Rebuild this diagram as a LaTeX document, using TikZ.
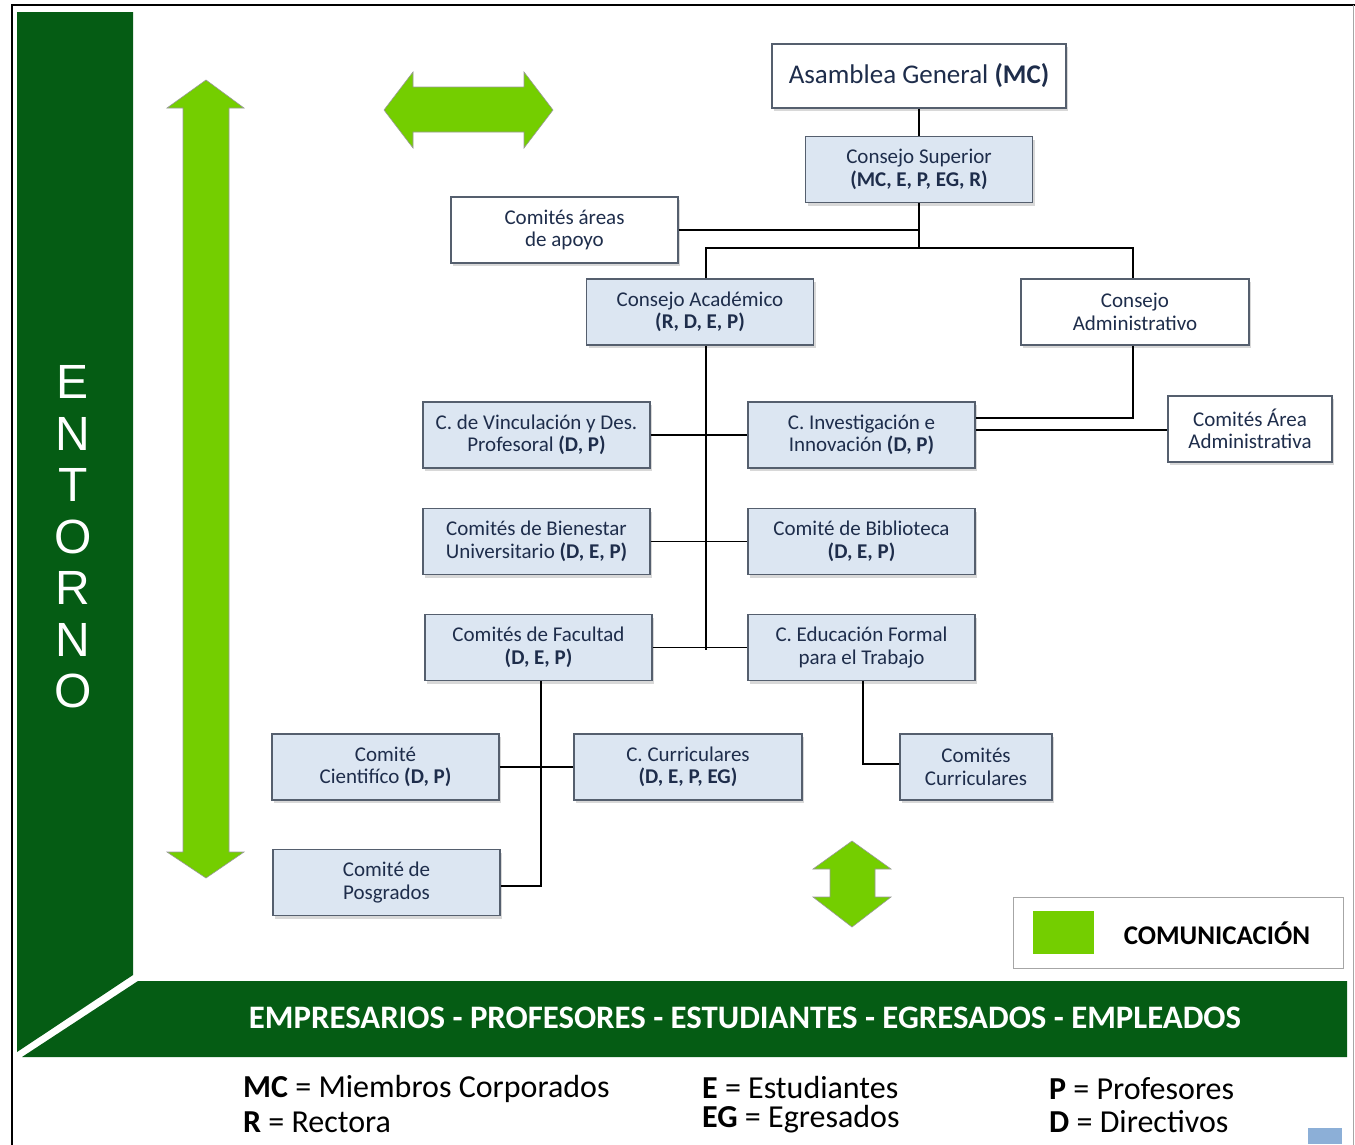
\documentclass[tikz,border=0pt]{standalone}
\usepackage{fontspec}
\setmainfont{Carlito}
\newfontfamily\arialf{Liberation Sans}
\usetikzlibrary{shadows}
\definecolor{dkgreen}{RGB}{5,92,20}
\definecolor{ltgreen}{RGB}{116,206,0}
\definecolor{boxblue}{RGB}{220,230,242}
\definecolor{boxline}{RGB}{85,95,110}
\definecolor{txt}{RGB}{30,45,75}
\definecolor{iconblue}{RGB}{140,175,215}
\begin{document}
\begin{tikzpicture}[x=1pt,y=-1pt,
  orgbox/.style={draw=boxline, line width=1.3pt, fill=boxblue, minimum width=227pt,
    minimum height=66pt, align=center, text=txt, inner sep=2pt,
    font=\fontsize{21}{22.5}\selectfont,
    drop shadow={shadow xshift=2pt, shadow yshift=-3pt, opacity=0.3}},
  whitebox/.style={orgbox, fill=white},
  link/.style={line width=1.8pt, draw=black},
  greenarrow/.style={fill=ltgreen, draw=gray!80, line width=0.6pt},
  legtext/.style={anchor=west, inner sep=0pt, text=black, font=\fontsize{32}{34}\selectfont}]
\useasboundingbox (0,0) rectangle (1355,1144);
\fill[white] (0,0) rectangle (1355,1144);
% frame
\draw[black, line width=2.2pt] (12,1150) -- (12,5) -- (1355,5);
\draw[gray!70, line width=1pt] (1353,5) -- (1353,1150);
% green L shape
\fill[dkgreen] (17,12) -- (133,12) -- (133,975) -- (17,1052) -- cycle;
\fill[dkgreen] (138,981) -- (1347,981) -- (1347,1057) -- (22,1057) -- cycle;
% ENTORNO
\node[font=\arialf\fontsize{48}{51.5}\selectfont, text=white, align=center] (entorno) at (73,537) {E\\N\\T\\O\\R\\N\\O};
% band text
\node[font=\bfseries\fontsize{32.8}{36}\selectfont, text=white] (band) at (745,1018) {EMPRESARIOS - PROFESORES - ESTUDIANTES - EGRESADOS - EMPLEADOS};
% arrows
\draw[greenarrow] (206,80) -- (244,108) -- (229,108) -- (229,852) -- (244,852) -- (206,878)
  -- (167,852) -- (183,852) -- (183,108) -- (167,108) -- cycle;
\draw[greenarrow] (384,110) -- (413,72) -- (413,87) -- (524,87) -- (524,72) -- (553,110)
  -- (524,148) -- (524,132) -- (413,132) -- (413,148) -- cycle;
\draw[greenarrow] (852,841) -- (891,869) -- (875,869) -- (875,897) -- (891,897) -- (852,927)
  -- (813,897) -- (830,897) -- (830,869) -- (813,869) -- cycle;
% boxes
\node[whitebox, minimum width=294pt, minimum height=64pt, font=\fontsize{27}{29}\selectfont] (asamblea) at (919,76) {Asamblea General \textbf{(MC)}};
\node[orgbox] (superior) at (919,169.5) {Consejo Superior\\\textbf{(MC, E, P, EG, R)}};
\node[whitebox] (apoyo) at (564.5,230) {Comités áreas\\de apoyo};
\node[orgbox] (academico) at (700,312) {Consejo Académico\\\textbf{(R, D, E, P)}};
\node[whitebox, minimum width=228pt] (admin) at (1135,312) {Consejo\\Administrativo};
\node[orgbox] (vinc) at (536.5,435) {C. de Vinculación y Des.\\Profesoral \textbf{(D, P)}};
\node[orgbox] (invest) at (861.5,435) {C. Investigación e\\Innovación \textbf{(D, P)}};
\node[whitebox, minimum width=164pt] (areaadm) at (1250,429) {Comités Área\\Administrativa};
\node[orgbox] (bienestar) at (536.5,541.5) {Comités de Bienestar\\Universitario \textbf{(D, E, P)}};
\node[orgbox] (biblio) at (861.5,541.5) {Comité de Biblioteca\\\textbf{(D, E, P)}};
\node[orgbox] (facultad) at (538.5,647.5) {Comités de Facultad\\\textbf{(D, E, P)}};
\node[orgbox] (educ) at (861.5,647.5) {C. Educación Formal\\para el Trabajo};
\node[orgbox] (cientifico) at (385.5,767) {Comité\\Cientifíco \textbf{(D, P)}};
\node[orgbox, minimum width=228pt] (ccurr) at (688,767) {C. Curriculares\\\textbf{(D, E, P, EG)}};
\node[orgbox, minimum width=152pt] (comcurr) at (976,767) {Comités\\Curriculares};
\node[orgbox] (posgrados) at (386.5,882.5) {Comité de\\Posgrados};
% junction coordinates
\coordinate (j1) at (919,248);
\coordinate (tA) at (706,650);
\coordinate (tB) at (1133,418);
\coordinate (k2) at (1000,430);
\coordinate (k3) at (541,886);
\coordinate (k4) at (863,764);
% connectors
\draw[link] (asamblea.south) -- (superior.north);
\draw[link] (superior.south) -- (j1);
\draw[link] (apoyo.east) -- (apoyo.east -| superior.south);
\draw[link] (academico.north -| tA) |- (j1) -| (admin.north -| tB);
\draw[link] (academico.south -| tA) -- (tA);
\draw[link] (admin.south -| tB) -- (tB) -- (invest.east |- tB);
\draw[link] (invest.east |- k2) -- (areaadm.west |- k2);
\draw[link] (vinc.east) -- (invest.west);
\draw[link] (bienestar.east) -- (biblio.west);
\draw[link] (facultad.east) -- (educ.west);
\draw[link] (facultad.south -| k3) -- (k3) -- (posgrados.east |- k3);
\draw[link] (cientifico.east) -- (ccurr.west);
\draw[link] (educ.south -| k4) -- (k4) -- (comcurr.west |- k4);
% legend box
\node[draw=gray!70, line width=1pt, fill=white, minimum width=330pt, minimum height=71pt] (legend) at (1178,932.5) {};
\node[fill=ltgreen, minimum width=61pt, minimum height=43pt, inner sep=0pt] (legsq) at (1063.5,932.5) {};
\node[font=\bfseries\fontsize{27}{29}\selectfont, text=black] (legtxt) at (1217,933) {COMUNICACIÓN};
% abbreviations
\node[legtext] (mc) at (243,1089) {\textbf{MC} = Miembros Corporados};
\node[legtext] (r) at (243,1122) {\textbf{R} = Rectora};
\node[legtext] (e) at (702,1087) {\textbf{E} = Estudiantes};
\node[legtext] (eg) at (702,1119) {\textbf{EG} = Egresados};
\node[legtext] (p) at (1049,1089) {\textbf{P} = Profesores};
\node[legtext] (d) at (1049,1122) {\textbf{D} = Directivos};
% small icon
\fill[iconblue] (1308,1128) rectangle (1342,1144);
\end{tikzpicture}
\end{document}
